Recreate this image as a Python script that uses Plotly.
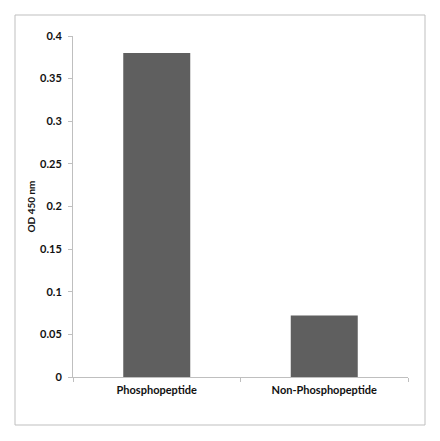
import plotly.graph_objects as go

categories = ["Phosphopeptide", "Non-Phosphopeptide"]
od450 = [0.380, 0.072]
ytick_vals = [0, 0.05, 0.1, 0.15, 0.2, 0.25, 0.3, 0.35, 0.4]
ytick_text = ["0", "0.05", "0.1", "0.15", "0.2", "0.25", "0.3", "0.35", "0.4"]

# page body has an 8px default margin, so the figure is drawn 8px smaller
OFF = 8
W, H = 440 - OFF, 441 - OFF
L, R, T, B = 73 - OFF, 32, 36 - OFF, 64
pw, ph = W - L - R, H - T - B

fig = go.Figure(go.Bar(x=categories, y=od450, marker_color="#5f5f5f",
                       marker_line_width=0, width=0.4))

axis_col = "#bfbfbf"
tick_font = dict(family="Lato, Open Sans, sans-serif", size=11,
                 color="#111111", weight="bold")

fig.update_layout(
    width=W, height=H,
    margin=dict(l=L, r=R, t=T, b=B),
    paper_bgcolor="white", plot_bgcolor="white",
    showlegend=False,
    xaxis=dict(showline=True, linecolor=axis_col, linewidth=1,
               ticks="outside", tickson="boundaries", ticklen=4,
               tickcolor=axis_col, showgrid=False,
               ticklabelstandoff=3, tickfont=tick_font),
    yaxis=dict(range=[0, 0.4], tickvals=ytick_vals, ticktext=ytick_text,
               showline=True, linecolor=axis_col, linewidth=1,
               ticks="outside", ticklen=4, tickcolor=axis_col,
               showgrid=False, zeroline=False,
               ticklabelstandoff=4, tickfont=tick_font,
               title=dict(text="OD 450 nm", standoff=2,
                          font=dict(family="Lato, Open Sans, sans-serif",
                                    size=10, color="#111111", weight="bold"))),
)

# outer chart border
fig.add_shape(type="rect", xref="paper", yref="paper",
              x0=(15 - 73) / pw, x1=(425 - 73) / pw,
              y0=(377 - 425) / ph, y1=(377 - 15) / ph,
              line=dict(color=axis_col, width=1), layer="below")

fig.write_html("out.html")
